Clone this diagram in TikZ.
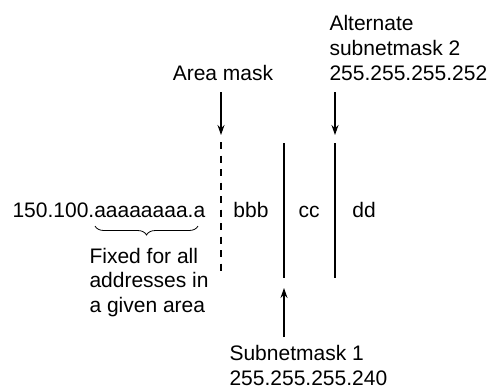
\documentclass[tikz,border=0pt]{standalone}
\usepackage{fontspec}
\setmainfont{Liberation Sans}
\usetikzlibrary{decorations.pathreplacing,arrows.meta}
\begin{document}
\begin{tikzpicture}[x=1pt, y=-1pt, line width=1.1pt, line cap=butt,
	>={Stealth[length=10pt,width=7pt]},
	txt/.style={inner sep=0pt, font=\fontsize{21}{25}\selectfont},
	mask/.style={line width=1.1pt}]
	\useasboundingbox (0,0) rectangle (489,389);
	% texts
	\node[txt, anchor=base west] (addr) at (12,217) {150.100.aaaaaaaa.a};
	\node[txt, anchor=base] (bbb) at (251,217) {bbb};
	\node[txt, anchor=base] (cc) at (309,217) {cc};
	\node[txt, anchor=base] (dd) at (364,217) {dd};
	\node[txt, anchor=base] (area) at (223,80) {Area mask};
	\node[txt, anchor=base west, align=left] (alt) at (329,80) {Alternate\\subnetmask 2\\255.255.255.252};
	\node[txt, anchor=base west, align=left] (sub) at (229,385.5) {Subnetmask 1\\255.255.255.240};
	\node[txt, anchor=base west, align=left, font=\fontsize{21}{24.5}\selectfont] (fixed) at (89,312) {Fixed for all\\addresses in\\a given area};
	% mask lines
	\path (221,142) coordinate (A1) (221,277) coordinate (A2)
	(284,143) coordinate (S1) (284,278) coordinate (S2)
	(335,143) coordinate (T1) (335,278) coordinate (T2)
	(221,92) coordinate (a0) (221,135) coordinate (a1)
	(335,92) coordinate (t0) (335,135) coordinate (t1)
	(284,337) coordinate (s0) (284,288) coordinate (s1)
	(95,226) coordinate (B1) (198,226) coordinate (B2);
	\draw[mask, dash pattern=on 7pt off 6.5pt] (A1) -- (A2);
	\draw[mask] (S1) -- (S2) (T1) -- (T2);
	% arrows
	\draw[->] (a0) -- (a1);
	\draw[->] (t0) -- (t1);
	\draw[->] (s0) -- (s1);
	\draw[line width=0.8pt, decorate, decoration={brace, mirror, amplitude=9pt}] (B1) -- (B2);
\end{tikzpicture}
\end{document}
